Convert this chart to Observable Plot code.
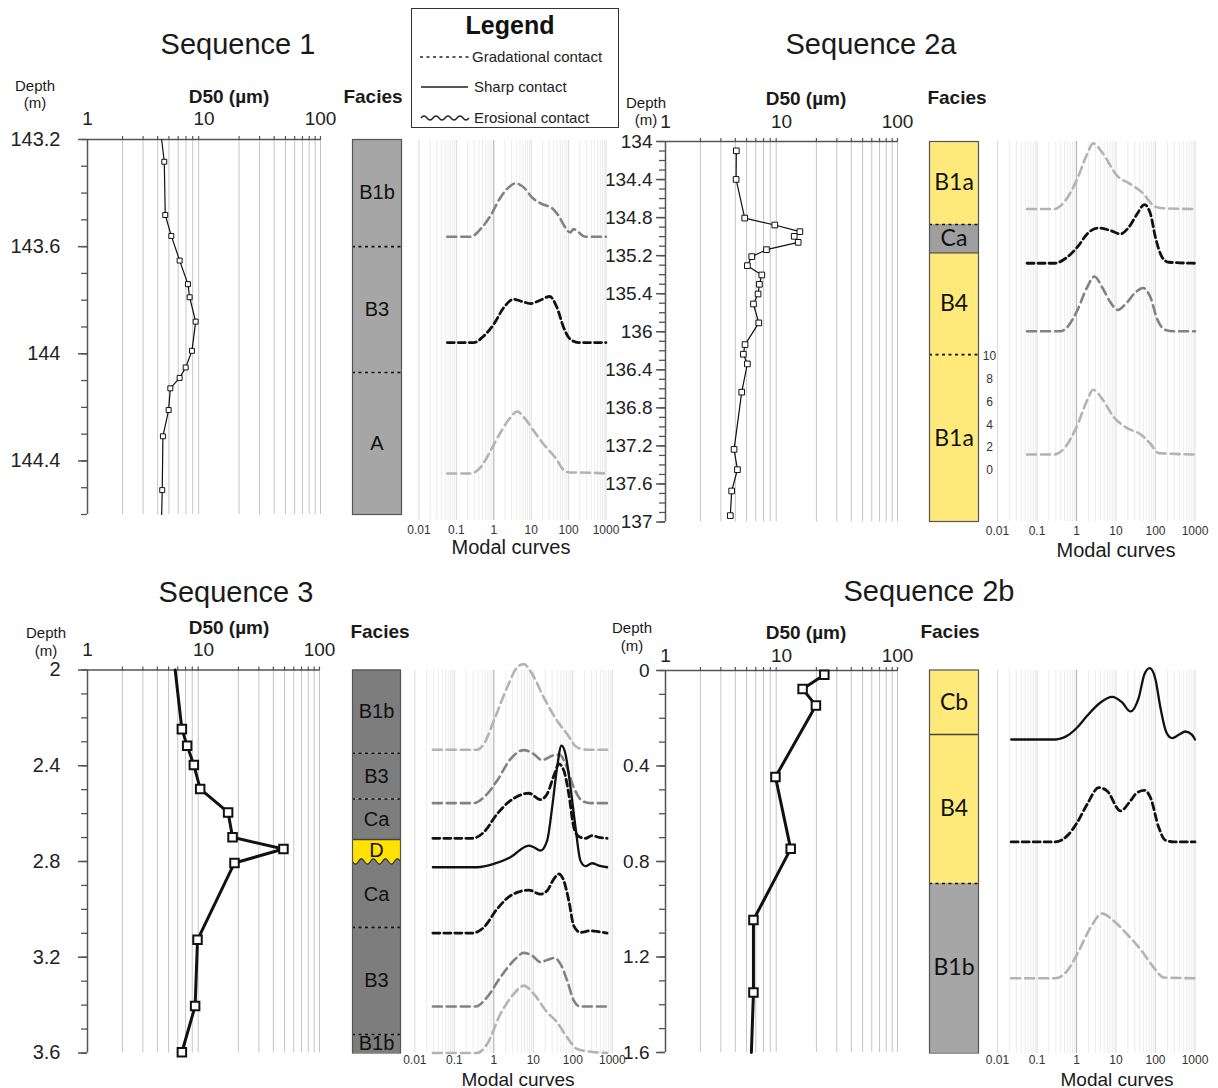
<!DOCTYPE html>
<html><head><meta charset="utf-8">
<script src="https://cdn.jsdelivr.net/npm/d3@7"></script>
<script src="https://cdn.jsdelivr.net/npm/@observablehq/plot@0.6"></script>
<style>
body{margin:0;background:#fff;}
#c{position:relative;width:1218px;height:1088px;background:#fff;overflow:hidden;font-family:"Liberation Sans",Arial,Helvetica,sans-serif;color:#1a1a1a;}
#c svg.layer{position:absolute;left:0;top:0;}
.t{position:absolute;white-space:nowrap;transform:translate(-50%,-50%);line-height:1;}
</style></head><body><div id="c"></div><script>
// ---------------- DATA ----------------
// D50 axis ticks
const d50Ticks = [1, 10, 100];
const d50TickLabels = ["1", "10", "100"];
const modalTicks = [0.01, 0.1, 1, 10, 100, 1000];
const modalTickLabels = ["0.01", "0.1", "1", "10", "100", "1000"];

// Sequence 1
const s1DepthTicks = [143.2, 143.6, 144, 144.4];
const s1DepthLabels = ["143.2", "143.6", "144", "144.4"];
const s1Depth = [143.283,143.482,143.56,143.652,143.74,143.789,143.88,143.989,144.051,144.09,144.129,144.21,144.308,144.509];
const s1D50 = [4.56,4.65,5.24,6.18,7.28,7.53,8.48,7.88,6.96,6.18,5.14,4.97,4.44,4.38];
const s1LineTopD50 = 4.33, s1LineBottomD50 = 4.33;
const s1FaciesName = ["B1b","B3","A"];
const s1FaciesTop = [143.2,143.6,144.07];
const s1FaciesBase = [143.6,144.07,144.6];
const s1ContactDepth = [143.6,144.07];
const s1ContactType = ["gradational","gradational"];
const s1ModalDepth = [143.563, 143.958, 144.447];
const s1ModalSize = [
  [0.057,0.239,0.441,0.815,1.51,2.51,3.78,6.31,10.5,19.4,35.9,54.1,81.5,111,136,185,278,1000],
  [0.057,0.293,0.541,1,1.85,3.41,5.7,9.5,17.5,31.1,48.9,73.6,111,185,1000],
  [0.057,0.239,0.441,0.815,1.51,2.78,4.19,6.99,11.7,21.5,44.1,81.5,111,205,1000]];
const s1ModalVol = [
  [0,0,0.67,1.84,3.45,4.33,4.68,4.33,3.45,2.87,2.51,1.84,0.82,0.38,0.67,0.38,0,0],
  [0,0,0.58,1.61,3.07,3.80,3.60,3.42,3.71,4.04,3.07,1.32,0.29,0,0],
  [0,0,0.53,1.99,3.60,4.91,5.44,4.77,3.74,2.57,1.40,0.18,0.09,0.09,0]];

// Sequence 2a
const s2aDepthTicks = [134,134.4,134.8,135.2,135.6,136,136.4,136.8,137.2,137.6,138];
const s2aDepthLabels = ["134","134.4","134.8","135.2","135.4","136","136.4","136.8","137.2","137.6","137"];
const s2aDepth = [134.098,134.399,134.805,134.878,134.948,134.997,135.06,135.137,135.21,135.305,135.403,135.501,135.603,135.708,135.907,136.135,136.236,136.338,136.635,137.237,137.45,137.674,137.933];
const s2aD50 = [4.08,4.06,4.82,8.75,14.4,12.87,13.93,7.42,5.54,5.08,6.76,6.45,6.28,5.73,6.37,4.85,4.69,5.08,4.54,3.90,4.17,3.72,3.62];
const s2aFaciesName = ["B1a","Ca","B4","B1a"];
const s2aFaciesTop = [134,134.873,135.17,136.24];
const s2aFaciesBase = [134.873,135.17,136.24,138];
const s2aContactDepth = [134.873,135.17,136.24];
const s2aContactType = ["gradational","sharp","gradational"];
const s2aModalDepth = [134.71, 135.28, 135.995, 137.29];
const s2aModalSize = [
  [0.056,0.27,0.48,1,1.86,2.64,4.46,10.7,23.2,45.8,90,133,1000],
  [0.056,0.27,0.58,1.04,2.05,3.67,7.24,13,21.1,34.3,52.5,74.5,99.6,147,217,1000],
  [0.056,0.39,0.58,1.04,1.86,2.85,4.46,7.24,11.1,19.1,31.1,48.6,74.5,110,178,290,1000],
  [0.056,0.27,0.48,1,1.86,2.64,4.46,8.8,17.3,45.8,74.5,121,1000]];
const s2aModalVol = [
  [0,0,0.58,2.49,4.82,5.76,4.97,2.92,2.19,1.46,0.29,0.09,0],
  [0,0,0.53,1.40,2.72,3.10,2.87,2.57,3.16,4.33,5.15,4.33,2.28,0.53,0.09,0],
  [0,0,0.35,1.81,3.86,4.80,3.86,2.54,1.87,2.54,3.42,3.80,2.98,1.08,0.12,0,0],
  [0,0,0.50,2.40,4.74,5.67,4.88,3.27,2.40,1.67,0.94,0.12,0]];
const s2aVolTicks = [0,2,4,6,8,10];
const s2aVolZeroDepth = 137.457;

// Sequence 3
const s3DepthTicks = [2,2.4,2.8,3.2,3.6];
const s3DepthLabels = ["2","2.4","2.8","3.2","3.6"];
const s3Depth = [2.247,2.316,2.397,2.497,2.595,2.699,2.748,2.806,3.127,3.404,3.597];
const s3D50 = [6.51,7.23,8.26,9.36,16.3,17.8,48.9,18.5,8.88,8.47,6.51];
const s3LineTopD50 = 5.7;
const s3FaciesName = ["B1b","B3","Ca","D","Ca","B3","B1b"];
const s3FaciesTop = [2,2.348,2.539,2.708,2.80,3.075,3.523];
const s3FaciesBase = [2.348,2.539,2.708,2.80,3.075,3.523,3.6];
const s3ContactDepth = [2.348,2.539,2.708,2.80,3.075,3.523];
const s3ContactType = ["gradational","gradational","sharp","erosional","gradational","gradational"];
const s3ModalDepth = [2.333, 2.556, 2.703, 2.824, 3.099, 3.406, 3.6];
const s3ModalSize = [
  [0.0286,0.378,0.558,1,2.18,3.9,5.75,9.34,18.4,40.1,71.9,129,231,740],
  [0.0286,0.312,0.558,1.21,2.64,5.75,10.3,16.7,30,46.9,65.2,106,172,280,740],
  [0.0286,0.283,0.558,1.21,2.64,7.69,15.2,22.4,34.3,44.2,59.2,79.2,106,142,209,308,455,740],
  [0.0286,0.378,1,2.64,7.69,10.3,15.2,22.4,30,40.1,51.7,65.2,87.3,117,156,209,308,455,740],
  [0.0286,0.283,0.558,1.21,2.64,7.69,15.2,22.4,33,44.2,59.2,79.2,106,156,280,455,740],
  [0.0286,0.344,0.678,1.47,3.21,5.75,9.34,15.2,22.4,34.3,48.7,71.9,106,156,740],
  [0.0286,0.378,0.678,1.47,3.21,5.75,10.3,22.4,40.1,71.9,129,231,740]];
const s3ModalVol = [
  [0,0,0.50,2.54,5.47,7.22,7.51,6.64,4.59,2.54,1.37,0.20,0,0],
  [0,0,0.50,1.96,3.86,4.65,4.30,3.77,4.15,4.24,3.42,1.37,0.20,0,0],
  [0,0,0.53,2.13,3.30,3.95,3.39,3.89,5.64,6.52,5.94,3.89,0.96,0.15,0,0.23,0.09,0],
  [0,0,0.29,0.88,1.90,1.75,1.46,2.34,5.26,8.77,10.67,9.94,7.02,3.51,0.58,0.09,0.35,0.15,0],
  [0,0,0.50,2.11,3.27,3.77,3.42,3.71,4.74,5.18,4.59,2.84,0.64,0.06,0.20,0.12,0],
  [0,0,0.82,2.57,4.04,4.71,4.47,3.89,4.09,4.27,3.74,2.28,0.53,0,0],
  [0,0,0.79,3.42,5.18,5.91,5.18,3.57,2.69,1.37,0.35,0.15,0]];

// Sequence 2b
const s2bDepthTicks = [0,0.4,0.8,1.2,1.6];
const s2bDepthLabels = ["0","0.4","0.8","1.2","1.6"];
const s2bDepth = [0.018,0.077,0.147,0.446,0.747,1.045,1.349];
const s2bD50 = [23.4,15.2,19.8,8.87,12.0,5.73,5.73];
const s2bLineBottomD50 = 5.5;
const s2bFaciesName = ["Cb","B4","B1b"];
const s2bFaciesTop = [0,0.268,0.892];
const s2bFaciesBase = [0.268,0.892,1.6];
const s2bContactDepth = [0.268,0.892];
const s2bContactType = ["sharp","gradational"];
const s2bModalDepth = [0.289, 0.718, 1.289];
const s2bModalSize = [
  [0.0222,0.294,0.58,1.04,1.86,4.05,7.98,14.3,23.2,37.7,52.5,71.6,99.6,133,189,263,388,572,843,1000],
  [0.0222,0.294,0.58,1.04,1.86,3.67,5.97,13,23.2,34.3,52.5,74.5,121,178,290,1000],
  [0.0222,0.294,0.58,1.04,2.26,4.46,8.8,19.1,41.6,90.4,162,1000]];
const s2bModalVol = [
  [0,0,0.32,1.05,2.08,3.25,3.74,3.25,2.46,3.68,5.73,6.26,5.29,2.81,0.61,0.12,0.41,0.70,0.41,0],
  [0,0,0.53,1.70,3.30,4.77,4.47,2.72,3.60,4.33,4.53,3.89,1.26,0.15,0,0],
  [0,0,0.64,2.11,4.44,5.67,5.03,3.86,2.54,0.94,0.06,0]];

// ---------------- LAYOUT / STYLE ----------------
const W = 1218, H = 1088;
const FONT = "'Liberation Sans', Arial, Helvetica, sans-serif";
const VOLPX = 11.4; // px per vol% in modal panels
const C = document.getElementById("c");
const GREY = "#a6a6a6", DARK = "#7d7d7d", YEL = "#ffe97a", DYEL = "#ffe200";
const curveStyle = {
  light: {stroke: "#b3b3b3", strokeWidth: 2.6, strokeDasharray: "9,5"},
  mid:   {stroke: "#828282", strokeWidth: 2.6, strokeDasharray: "9,5"},
  black: {stroke: "#111", strokeWidth: 2.8, strokeDasharray: "7,4"},
  solid: {stroke: "#111", strokeWidth: 2.3}
};

function label(txt, x, y, size, opts = {}) {
  const d = document.createElement("div");
  d.className = "t";
  d.textContent = txt;
  d.style.left = x + "px"; d.style.top = y + "px"; d.style.fontSize = size + "px";
  if (opts.bold) d.style.fontWeight = "bold";
  if (opts.font) d.style.fontFamily = opts.font;
  C.appendChild(d);
}
function add(svg) { svg.classList.add("layer"); C.appendChild(svg); }
function margins(f) {
  return {width: W, height: H, marginLeft: f[0], marginTop: f[1], marginRight: W - f[2], marginBottom: H - f[3],
    style: {background: "transparent", fontFamily: FONT, color: "#222", overflow: "visible"}};
}
const logGrid = [];
for (const m of [1, 10]) for (let i = 2; i <= 9; i++) logGrid.push(i * m);
logGrid.push(100);
const modalMinor = [], modalMajor = [0.01, 0.1, 10, 100, 1000];
for (const m of [0.01, 0.1, 1, 10, 100]) for (let i = 2; i <= 9; i++) modalMinor.push(+(i * m).toPrecision(3));

function seqDef(frame, dom) {
  return {frame, dom, ppm: (frame[3] - frame[1]) / (dom[1] - dom[0]),
    depthAt: y => dom[0] + (y - frame[1]) / (frame[3] - frame[1]) * (dom[1] - dom[0])};
}

function d50Plot(S, depths, vals, ticks, labels, o) {
  const samples = depths.map((d, i) => ({depth: d, d50: vals[i]}));
  const line = samples.slice();
  if (o.top != null) line.unshift({depth: S.dom[0], d50: o.top});
  if (o.bottom != null) line.push({depth: S.dom[1], d50: o.bottom});
  const minor = d3.range(Math.round((S.dom[1] - S.dom[0]) * 10) + 1).map(i => +(S.dom[0] + i * 0.1).toFixed(2));
  add(Plot.plot({
    ...margins(S.frame),
    x: {type: "log", domain: [1, 100]},
    y: {domain: S.dom, reverse: true},
    marks: [
      Plot.ruleX(logGrid, {stroke: "#c6c6c6", strokeWidth: 1}),
      Plot.axisX({anchor: "top", ticks: logGrid, tickSize: 4, tickFormat: () => "", stroke: "#555", strokeWidth: 1.2, label: null}),
      Plot.axisX({anchor: "top", ticks: d50Ticks, tickSize: 0, tickPadding: o.topPad, fontSize: 19, fill: "#222",
        tickFormat: d => d50TickLabels[d50Ticks.indexOf(d)], label: null}),
      Plot.axisY({anchor: "left", ticks: minor, tickSize: 6, tickFormat: () => "", stroke: "#555", strokeWidth: 1.3, label: null}),
      Plot.axisY({anchor: "left", ticks: ticks, tickSize: 9, tickPadding: o.yPad, fontSize: o.yFont || 20, fill: "#222", stroke: "#555", strokeWidth: 1.5,
        tickFormat: d => labels[ticks.indexOf(d)], label: null}),
      Plot.ruleX([1], {stroke: "#555", strokeWidth: 1.5}),
      Plot.ruleY([S.dom[0]], {stroke: "#555", strokeWidth: 1.5}),
      Plot.line(line, {x: "d50", y: "depth", stroke: "#111", strokeWidth: o.thick ? 3 : 1.2}),
      Plot.dot(samples, {x: "d50", y: "depth", symbol: "square", r: o.r, fill: "white", stroke: "#111", strokeWidth: o.thick ? 2 : 1})
    ]
  }));
}

function faciesPlot(S, frame, names, tops, bases, fills, cDepth, cType, o) {
  const dom = [S.depthAt(frame[1]), S.depthAt(frame[3])];
  const units = names.map((n, i) => ({name: n, top: tops[i], base: bases[i], fill: fills[i]}));
  const contacts = cDepth.map((d, i) => ({depth: d, type: cType[i]}));
  const marks = [
    Plot.rect(units, {x1: () => 0, x2: () => 1, y1: "top", y2: "base", fill: "fill"}),
  ];
  const eros = contacts.filter(c => c.type === "erosional");
  for (const e of eros) {
    const u = units.find(u => Math.abs(u.base - e.depth) < 1e-9);
    const amp = 3 / S.ppm;
    const wave = d3.range(0, 33).map(i => ({x: i / 32, y: e.depth + amp * Math.sin(i / 32 * Math.PI * 2 * 4)}));
    marks.push(Plot.areaY(wave, {x: "x", y1: () => u.top, y2: "y", fill: DYEL, curve: "basis"}));
    marks.push(Plot.line(wave, {x: "x", y: "y", stroke: "#333", strokeWidth: 1.2, curve: "basis"}));
  }
  marks.push(
    Plot.ruleY(contacts.filter(c => c.type === "gradational"), {y: "depth", stroke: "#111", strokeWidth: 1.6, strokeDasharray: "3,3.5"}),
    Plot.ruleY(contacts.filter(c => c.type === "sharp"), {y: "depth", stroke: "#444", strokeWidth: 1.3}),
    Plot.frame({stroke: "#555", strokeWidth: 1.2}),
    Plot.text(units, {x: () => 0.5, y: d => (d.top + d.base) / 2, text: "name", fontSize: o.size, fontFamily: o.font, fill: "#111"})
  );
  add(Plot.plot({
    ...margins(frame),
    x: {domain: [0, 1], axis: null}, y: {domain: dom, reverse: true, axis: null},
    color: {type: "identity"},
    marks
  }));
}

function modalPlot(S, frame, depths, sizes, vols, styles, pad, extra) {
  const dom = [S.depthAt(frame[1]), S.depthAt(frame[3])];
  const k = VOLPX / S.ppm;
  const marks = [
    Plot.ruleX(modalMinor, {stroke: "#ececec", strokeWidth: 1}),
    Plot.ruleX(modalMajor, {stroke: "#dadada", strokeWidth: 1}),
    Plot.ruleX([1], {stroke: "#b8b8b8", strokeWidth: 1.2}),
    Plot.axisX({anchor: "bottom", ticks: modalTicks, tickSize: 0, tickPadding: pad, fontSize: 12, fill: "#333",
      tickFormat: d => modalTickLabels[modalTicks.indexOf(d)], label: null})
  ];
  depths.forEach((dep, j) => {
    const pts = d3.zip(sizes[j], vols[j]);
    marks.push(Plot.line(pts, {x: d => d[0], y: d => dep - d[1] * k, curve: "monotone-x", ...curveStyle[styles[j]]}));
  });
  if (extra) marks.push(Plot.text(extra.ticks, {x: () => 0.01, y: v => extra.zero - v * k, text: d => String(d), dx: -8, fontSize: 12, fill: "#333"}));
  add(Plot.plot({
    ...margins(frame),
    x: {type: "log", domain: [0.01, 1000]}, y: {domain: dom, reverse: true, axis: null},
    marks
  }));
}

// ---------------- BUILD ----------------
const S1 = seqDef([87, 139, 320, 514], [143.2, 144.6]);
const S2a = seqDef([665, 141, 897, 521.5], [134, 138]);
const S3 = seqDef([87, 669.5, 319, 1052.5], [2, 3.6]);
const S2b = seqDef([665, 670, 897, 1052], [0, 1.6]);

d50Plot(S1, s1Depth, s1D50, s1DepthTicks, s1DepthLabels, {top: s1LineTopD50, bottom: s1LineBottomD50, topPad: 15, yPad: 18, r: 2.8});
d50Plot(S2a, s2aDepth, s2aD50, s2aDepthTicks, s2aDepthLabels, {topPad: 14, yPad: 4, yFont: 19, r: 3.2});
d50Plot(S3, s3Depth, s3D50, s3DepthTicks, s3DepthLabels, {top: s3LineTopD50, topPad: 14, yPad: 18, r: 4.8, thick: true});
d50Plot(S2b, s2bDepth, s2bD50, s2bDepthTicks, s2bDepthLabels, {bottom: s2bLineBottomD50, topPad: 9, yPad: 7, yFont: 19, r: 4.8, thick: true});

const ARIALF = {size: 20, font: FONT};
const CALF = {size: 23, font: "Lato, 'Open Sans', sans-serif"};
faciesPlot(S1, [352, 139, 401, 514], s1FaciesName, s1FaciesTop, s1FaciesBase, [GREY, GREY, GREY], s1ContactDepth, s1ContactType, ARIALF);
faciesPlot(S2a, [929, 141, 978, 521], s2aFaciesName, s2aFaciesTop, s2aFaciesBase, [YEL, "#9f9f9f", YEL, YEL], s2aContactDepth, s2aContactType, CALF);
faciesPlot(S3, [352, 669.5, 400, 1052.5], s3FaciesName, s3FaciesTop, s3FaciesBase, [DARK, DARK, DARK, DARK, DARK, DARK, DARK], s3ContactDepth, s3ContactType, ARIALF);
faciesPlot(S2b, [929, 669.5, 978, 1052.5], s2bFaciesName, s2bFaciesTop, s2bFaciesBase, [YEL, YEL, GREY], s2bContactDepth, s2bContactType, CALF);

modalPlot(S1, [418.5, 140, 605.5, 520], s1ModalDepth, s1ModalSize, s1ModalVol, ["mid", "black", "light"], 5);
modalPlot(S2a, [997, 141, 1194.5, 521], s2aModalDepth, s2aModalSize, s2aModalVol, ["light", "black", "mid", "light"], 5, {ticks: s2aVolTicks, zero: s2aVolZeroDepth});
modalPlot(S3, [414.3, 670, 611.8, 1053], s3ModalDepth, s3ModalSize, s3ModalVol, ["light", "mid", "black", "solid", "black", "mid", "light"], 2);
modalPlot(S2b, [997, 670, 1194.5, 1053], s2bModalDepth, s2bModalSize, s2bModalVol, ["solid", "black", "light"], 2);

// Texts
label("Sequence 1", 238, 44, 29);
label("Sequence 2a", 871, 44, 29);
label("Sequence 3", 236, 592, 29);
label("Sequence 2b", 929, 591, 29);
[[35,85,102],[646,102,119],[46,632,650],[632,627,645]].forEach(([x,y1,y2]) => { label("Depth", x, y1, 15); label("(m)", x, y2, 15); });
[[229,96],[806,98],[229,627],[806,632]].forEach(([x,y]) => label("D50 (µm)", x, y, 19, {bold: true}));
[[373,96],[957,97],[380,631],[950,631]].forEach(([x,y]) => label("Facies", x, y, 19, {bold: true}));
label("Modal curves", 511, 547, 20);
label("Modal curves", 1116, 550, 20);
label("Modal curves", 518, 1079, 19);
label("Modal curves", 1117, 1079, 19);

// Legend
const lg = document.createElement("div");
lg.style.cssText = "position:absolute;left:411px;top:8px;width:206px;height:118px;border:1.3px solid #333;background:#fff;";
lg.innerHTML = `<svg width="206" height="118" style="position:absolute;left:0;top:0" font-family="${FONT.replace(/"/g,"")}">
<text x="98" y="25" text-anchor="middle" font-size="25" font-weight="bold" fill="#111">Legend</text>
<line x1="8" x2="57" y1="48" y2="48" stroke="#222" stroke-width="1.4" stroke-dasharray="3,3.5"/>
<text x="60" y="53" font-size="15" fill="#222">Gradational contact</text>
<line x1="9" x2="56" y1="78" y2="78" stroke="#222" stroke-width="1.4"/>
<text x="62" y="83" font-size="15" fill="#222">Sharp contact</text>
<path d="M9,109 q3,-4 6,0 t6,0 t6,0 t6,0 t6,0 t6,0 t6,0 t6,0" fill="none" stroke="#222" stroke-width="1.3"/>
<text x="62" y="114" font-size="15" fill="#222">Erosional contact</text>
</svg>`;
C.appendChild(lg);
</script></body></html>
